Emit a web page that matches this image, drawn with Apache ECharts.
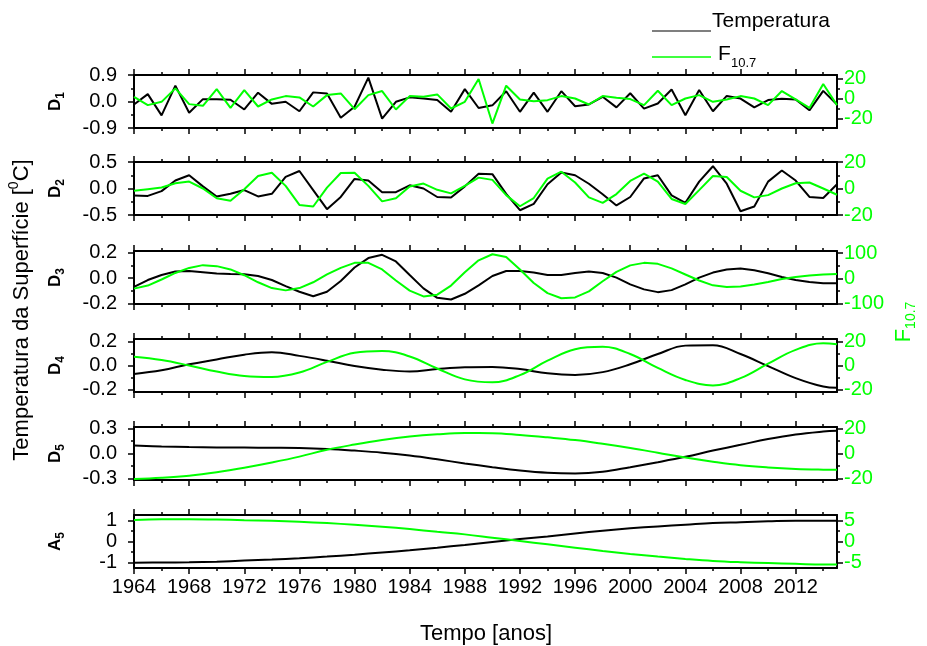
<!DOCTYPE html>
<html>
<head>
<meta charset="utf-8">
<script src="https://cdn.jsdelivr.net/npm/echarts@6/dist/echarts.min.js"></script>
<style>html,body{margin:0;padding:0;background:#fff}#c{width:927px;height:646px}</style>
</head>
<body>
<div id="c"></div>
<script>
// ---------- data ----------
const yearsA = [1964,1965,1966,1967,1968,1969,1970,1971,1972,1973,1974,1975,1976,1977,1978,1979,1980,1981,1982,1983,1984,1985,1986,1987,1988,1989,1990,1991,1992,1993,1994,1995,1996,1997,1998,1999,2000,2001,2002,2003,2004,2005,2006,2007,2008,2009,2010,2011,2012,2013,2014,2015];
const yearsS = [1964,1966,1968,1970,1972,1974,1976,1978,1980,1982,1984,1986,1988,1990,1992,1994,1996,1998,2000,2002,2004,2006,2008,2010,2012,2014,2015];

const D1T = [-0.10,0.25,-0.47,0.54,-0.38,0.08,0.08,0.06,-0.27,0.30,-0.08,-0.01,-0.33,0.31,0.27,-0.55,-0.18,0.81,-0.58,-0.01,0.14,0.10,0.05,-0.35,0.42,-0.22,-0.13,0.35,-0.35,0.30,-0.35,0.35,-0.16,-0.10,0.16,-0.20,0.28,-0.24,-0.07,0.41,-0.47,0.39,-0.33,0.19,0.10,-0.20,0.05,0.09,0.07,-0.30,0.36,-0.10];
const D1F = [2.0,-6.4,-3.1,10.5,-5.4,-7.1,9.8,-9.2,8.8,-7.8,-0.7,2.7,1.4,-7.8,3.7,5.4,-10.5,3.7,7.8,-10.8,2.7,2.0,4.4,-9.8,-3.1,20.0,-25.0,13.2,-0.7,-2.4,-1.4,2.7,0.3,-5.8,2.7,1.0,-0.3,-6.4,8.1,-6.4,0.3,3.7,-3.1,-0.7,2.7,0.3,-6.4,7.8,-0.7,-9.2,14.9,-6.4];

const D2T = [-0.13,-0.14,-0.05,0.15,0.25,0.04,-0.15,-0.10,-0.03,-0.15,-0.10,0.22,0.33,-0.03,-0.39,-0.16,0.18,0.15,-0.07,-0.07,0.06,0.0,-0.16,-0.17,0.04,0.28,0.27,-0.10,-0.41,-0.29,0.08,0.30,0.25,0.09,-0.11,-0.32,-0.16,0.19,0.25,-0.13,-0.27,0.13,0.42,0.09,-0.43,-0.34,0.13,0.34,0.15,-0.16,-0.18,0.08];
const D2F = [-1.7,-0.5,0.7,4.0,5.2,0.0,-7.4,-9.2,-0.5,9.4,11.9,2.0,-12.4,-13.6,0.7,11.7,11.9,2.0,-9.7,-7.4,1.5,3.7,-1.0,-3.7,2.0,8.2,6.5,-5.0,-13.4,-7.2,7.4,12.7,4.5,-6.7,-10.9,-4.2,5.7,11.2,5.2,-7.9,-11.7,-1.2,9.4,8.7,-1.7,-6.7,-5.0,0.0,4.0,4.5,0.0,-4.7];

const D3T = [-0.07,-0.015,0.025,0.052,0.057,0.047,0.036,0.033,0.031,0.017,-0.015,-0.063,-0.108,-0.143,-0.108,-0.023,0.084,0.159,0.185,0.132,0.025,-0.081,-0.156,-0.169,-0.124,-0.057,0.017,0.057,0.057,0.044,0.025,0.025,0.041,0.052,0.041,0.004,-0.049,-0.089,-0.111,-0.095,-0.049,0.004,0.044,0.068,0.076,0.063,0.039,0.009,-0.015,-0.031,-0.041,-0.041];
const D3F = [-41,-29,-5,21,41,52,48,35,12,-16,-39,-48,-39,-16,15,41,61,61,35,-9,-49,-72,-65,-29,24,71,95,84,35,-19,-59,-79,-76,-52,-12,25,51,61,57,39,15,-9,-28,-35,-33,-25,-15,-3,5,11,15,17];

const D4T = [-0.07,-0.04,0.01,0.05,0.09,0.11,0.08,0.04,-0.005,-0.035,-0.05,-0.03,-0.015,-0.012,-0.03,-0.065,-0.078,-0.055,0.01,0.095,0.165,0.168,0.095,-0.005,-0.105,-0.175,-0.185];
const D4F = [7.2,4.5,0.0,-5.0,-8.7,-9.5,-5.8,3.0,10.5,12.0,7.5,-2.5,-11.5,-14.0,-8.0,4.0,13.5,15.5,9.5,-2.0,-12.0,-16.5,-10.5,1.5,13.0,18.5,17.7];

const D5T = [0.096,0.085,0.077,0.073,0.071,0.069,0.066,0.055,0.035,0.01,-0.025,-0.07,-0.12,-0.165,-0.205,-0.232,-0.24,-0.22,-0.165,-0.105,-0.04,0.035,0.105,0.175,0.23,0.265,0.275];
const D5F = [-20.5,-19.5,-17.8,-15.0,-11.4,-7.2,-2.5,3.0,7.2,10.8,13.6,15.4,16.4,16.3,14.9,13.0,10.8,7.8,4.4,0.6,-3.3,-6.6,-9.4,-11.2,-12.4,-13.0,-13.1];

const A5T = [-1.0,-0.99,-0.98,-0.95,-0.90,-0.85,-0.79,-0.71,-0.62,-0.52,-0.41,-0.29,-0.16,-0.02,0.12,0.24,0.38,0.51,0.62,0.71,0.79,0.87,0.91,0.95,0.98,0.98,0.98];
const A5F = [5.1,5.27,5.27,5.2,5.04,4.88,4.65,4.34,3.95,3.48,2.93,2.3,1.68,0.9,0.12,-0.66,-1.45,-2.23,-2.93,-3.55,-4.1,-4.57,-4.88,-5.1,-5.27,-5.43,-5.43];

// tick values / labels
const xMajorTicks = [1964,1968,1972,1976,1980,1984,1988,1992,1996,2000,2004,2008,2012];
const xMinorTicks = [1966,1970,1974,1978,1982,1986,1990,1994,1998,2002,2006,2010,2014];
const leftMajor = [[-0.9,0,0.9],[-0.5,0,0.5],[-0.2,0,0.2],[-0.2,0,0.2],[-0.3,0,0.3],[-1,0,1]];
const leftMinor = [[-0.45,0.45],[-0.25,0.25],[-0.1,0.1],[-0.1,0.1],[-0.15,0.15],[-0.5,0.5]];
const leftDecimals = [1,1,1,1,1,0];
const rightMajor = [[-20,0,20],[-20,0,20],[-100,0,100],[-20,0,20],[-20,0,20],[-5,0,5]];
const rightMinor = [[-10,10],[-10,10],[-50,50],[-10,10],[-10,10],[-2.5,2.5]];
const leftRange = [[-0.9,0.9],[-0.5,0.5],[-0.205,0.215],[-0.22,0.22],[-0.32,0.32],[-1.25,1.25]];
const rightRange = [[-29.5,24],[-20,20],[-102,108],[-22,22],[-21.3,21.3],[-6.25,6.25]];
const panelNames = [['D','1'],['D','2'],['D','3'],['D','4'],['D','5'],['A','5']];

const panels = [
  {years: yearsA, t: D1T, f: D1F, smooth: false},
  {years: yearsA, t: D2T, f: D2F, smooth: false},
  {years: yearsA, t: D3T, f: D3F, smooth: false},
  {years: yearsS, t: D4T, f: D4F, smooth: true},
  {years: yearsS, t: D5T, f: D5F, smooth: true},
  {years: yearsS, t: A5T, f: A5F, smooth: true}
];

// ---------- layout ----------
const FONT = '"Liberation Sans", Arial, sans-serif';
const GREEN = '#00FF00';
const tops = [75,162,251,339,427,515];
const PH = 53, PL = 134, PW = 703;
const TICKFS = 20;

const grids = [], xAxes = [], yAxes = [], series = [];
tops.forEach((top, i) => {
  grids.push({left: PL, width: PW, top: top, height: PH, show: false});
  ['bottom','top'].forEach(pos => {
    xAxes.push({
      gridIndex: i, type: 'value', min: 1964, max: 2015, position: pos,
      axisLine: {show: true, onZero: false, lineStyle: {color: '#000', width: 2}},
      axisTick: {show: true, inside: false, length: 6, lineStyle: {color: '#000', width: 1.5}, customValues: xMajorTicks},
      axisLabel: {show: (i === 5 && pos === 'bottom'), customValues: xMajorTicks, margin: 9,
        fontFamily: FONT, fontSize: TICKFS, color: '#000', formatter: v => String(v)},
      splitLine: {show: false}
    });
    xAxes.push({
      gridIndex: i, type: 'value', min: 1964, max: 2015, position: pos,
      axisLine: {show: false, onZero: false},
      axisTick: {show: true, inside: false, length: 3, lineStyle: {color: '#000', width: 1.5}, customValues: xMinorTicks},
      axisLabel: {show: false}, splitLine: {show: false}
    });
  });
  // left axes
  yAxes.push({
    gridIndex: i, type: 'value', position: 'left', min: leftRange[i][0], max: leftRange[i][1],
    axisLine: {show: true, onZero: false, lineStyle: {color: '#000', width: 2}},
    axisTick: {show: true, inside: false, length: 6, lineStyle: {color: '#000', width: 1.5}, customValues: leftMajor[i]},
    axisLabel: {show: true, customValues: leftMajor[i], margin: 17, fontFamily: FONT, fontSize: TICKFS, color: '#000',
      formatter: v => v.toFixed(leftDecimals[i])},
    splitLine: {show: false}
  });
  yAxes.push({
    gridIndex: i, type: 'value', position: 'left', min: leftRange[i][0], max: leftRange[i][1],
    axisLine: {show: false, onZero: false},
    axisTick: {show: true, inside: false, length: 3, lineStyle: {color: '#000', width: 1.5}, customValues: leftMinor[i]},
    axisLabel: {show: false}, splitLine: {show: false}
  });
  // right axes
  yAxes.push({
    gridIndex: i, type: 'value', position: 'right', min: rightRange[i][0], max: rightRange[i][1],
    axisLine: {show: true, onZero: false, lineStyle: {color: '#000', width: 2}},
    axisTick: {show: true, inside: false, length: 6, lineStyle: {color: '#000', width: 1.5}, customValues: rightMajor[i]},
    axisLabel: {show: true, customValues: rightMajor[i], margin: 7, fontFamily: FONT, fontSize: TICKFS, color: GREEN,
      formatter: v => String(v)},
    splitLine: {show: false}
  });
  yAxes.push({
    gridIndex: i, type: 'value', position: 'right', min: rightRange[i][0], max: rightRange[i][1],
    axisLine: {show: false, onZero: false},
    axisTick: {show: true, inside: false, length: 3, lineStyle: {color: '#000', width: 1.5}, customValues: rightMinor[i]},
    axisLabel: {show: false}, splitLine: {show: false}
  });
  const p = panels[i];
  series.push({
    type: 'line', xAxisIndex: i*4, yAxisIndex: i*4, showSymbol: false, symbol: 'none',
    smooth: p.smooth ? 0.4 : false, lineStyle: {color: '#000', width: 2}, itemStyle: {color: '#000'},
    data: p.years.map((y, k) => [y, p.t[k]]), z: 2
  });
  series.push({
    type: 'line', xAxisIndex: i*4, yAxisIndex: i*4+2, showSymbol: false, symbol: 'none',
    smooth: p.smooth ? 0.4 : false, lineStyle: {color: GREEN, width: 2}, itemStyle: {color: GREEN},
    data: p.years.map((y, k) => [y, p.f[k]]), z: 3
  });
});

// ---------- text helpers ----------
const mctx = document.createElement('canvas').getContext('2d');
function tw(text, size, weight) {
  mctx.font = (weight || 'normal') + ' ' + size + 'px "Liberation Sans"';
  return mctx.measureText(text).width;
}
function txt(x, y, text, size, opts) {
  opts = opts || {};
  const font = (opts.weight || 'normal') + ' ' + size + 'px ' + FONT;
  return {type: 'text', x: x, y: y, silent: true,
    style: {text: text, font: font, fill: opts.color || '#000',
      align: opts.align || 'left', verticalAlign: 'middle',
      textAlign: opts.align || 'left', textVerticalAlign: 'middle'}};
}
// vertical (rotated 90deg CCW) composite text centered at (cx, cy)
function vtext(cx, cy, parts) {
  let total = 0;
  parts.forEach(p => { p.w = tw(p.text, p.size, p.weight); total += p.w; });
  let lx = -total / 2;
  const children = parts.map(p => {
    const t = txt(lx, p.dy || 0, p.text, p.size, {weight: p.weight, color: p.color});
    lx += p.w;
    return t;
  });
  return {type: 'group', x: cx, y: cy, rotation: Math.PI / 2, children: children};
}

const graphics = [];
// panel labels
tops.forEach((top, i) => {
  graphics.push(vtext(55, top + PH / 2, [
    {text: panelNames[i][0], size: 17, weight: 'bold'},
    {text: panelNames[i][1], size: 12, weight: 'bold', dy: 6}
  ]));
});
// y titles
graphics.push(vtext(22, 310, [
  {text: 'Temperatura da Superfície [', size: 22},
  {text: '0', size: 14, dy: -8},
  {text: 'C]', size: 22}
]));
graphics.push(vtext(904, 322, [
  {text: 'F', size: 22, color: GREEN},
  {text: '10.7', size: 14, dy: 7, color: GREEN}
]));
// x title
graphics.push(txt(486, 634, 'Tempo [anos]', 22, {align: 'center'}));
// legend
graphics.push({type: 'line', silent: true, shape: {x1: 652, y1: 31, x2: 711, y2: 31}, style: {stroke: '#000', lineWidth: 1.2}});
graphics.push(txt(712, 21, 'Temperatura', 21));
graphics.push({type: 'line', silent: true, shape: {x1: 652, y1: 57, x2: 711, y2: 57}, style: {stroke: GREEN, lineWidth: 1.5}});
graphics.push(txt(718, 54, 'F', 21));
graphics.push(txt(731, 63, '10.7', 13));

const chart = echarts.init(document.getElementById('c'), null, {renderer: 'canvas', width: 927, height: 646});
chart.setOption({
  animation: false,
  backgroundColor: '#fff',
  grid: grids,
  xAxis: xAxes,
  yAxis: yAxes,
  series: series,
  graphic: graphics
});
</script>
</body>
</html>
